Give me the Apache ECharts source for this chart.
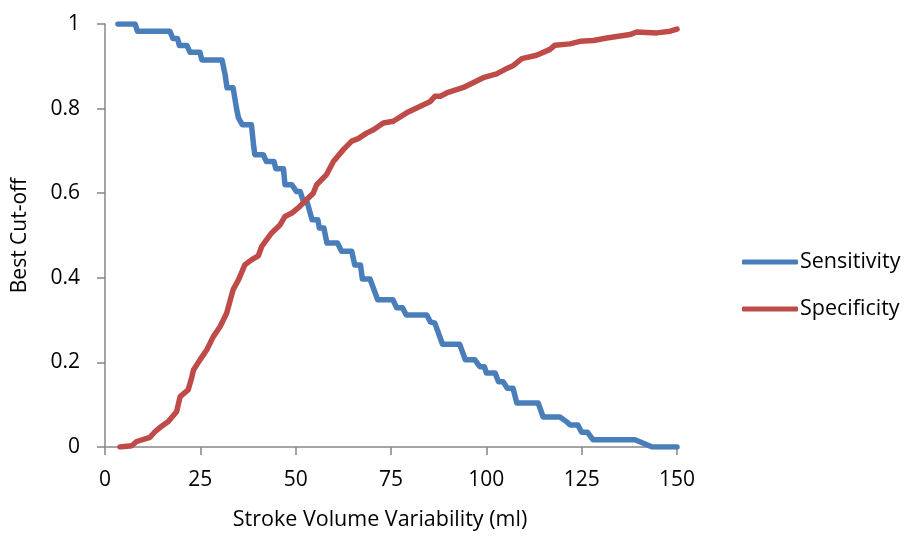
<!DOCTYPE html>
<html>
<head>
<meta charset="utf-8">
<script src="https://cdn.jsdelivr.net/npm/echarts@6/dist/echarts.min.js"></script>
<style>
  html, body { margin: 0; padding: 0; background: #fff; }
  #chart { width: 912px; height: 537px; }
</style>
</head>
<body>
<div id="chart"></div>
<script>
// --- data: [stroke volume variability, value] ---
const sensitivity = [
  [3.4, 1], [7.9, 1], [8.5, 0.983], [17, 0.983], [17.8, 0.966], [19, 0.966],
  [19.5, 0.949], [21.5, 0.949], [22.3, 0.933], [24.9, 0.933], [25.4, 0.915],
  [30.7, 0.915], [31.5, 0.88], [32, 0.849], [33.6, 0.849], [34.5, 0.8],
  [35, 0.778], [36, 0.762], [38.4, 0.762], [39, 0.71], [39.3, 0.691],
  [41.5, 0.691], [42.3, 0.675], [44.3, 0.675], [44.8, 0.658], [46.8, 0.658],
  [47.2, 0.62], [49, 0.62], [50.2, 0.604], [51.2, 0.604], [52, 0.581],
  [53, 0.579], [54.3, 0.537], [55.8, 0.537], [56.2, 0.518], [57.4, 0.518],
  [58.2, 0.482], [61, 0.482], [62, 0.463], [64.7, 0.463], [65.5, 0.43],
  [67, 0.43], [67.5, 0.397], [69.5, 0.397], [71.5, 0.348], [75.5, 0.348],
  [76.5, 0.329], [78, 0.329], [79, 0.312], [84.4, 0.312], [85.3, 0.296],
  [86.5, 0.293], [88.5, 0.243], [93, 0.243], [94.5, 0.206], [97, 0.206],
  [98.3, 0.19], [99.5, 0.19], [100, 0.175], [102.3, 0.175], [103.2, 0.154],
  [104.4, 0.154], [105.5, 0.139], [107, 0.139], [108, 0.104], [113.6, 0.104],
  [114.9, 0.071], [119.3, 0.071], [121, 0.06], [122, 0.052], [124, 0.052],
  [125, 0.035], [126.5, 0.035], [128, 0.017], [139, 0.017], [143.5, 0],
  [150, 0]
];
const specificity = [
  [3.9, 0], [7.0, 0.003], [8.3, 0.013], [11.8, 0.023], [13.1, 0.036],
  [14.4, 0.046], [16.6, 0.06], [18.8, 0.084], [19.7, 0.119], [21.8, 0.135],
  [22.7, 0.163], [23.2, 0.182], [24.9, 0.206], [26.7, 0.23], [28.4, 0.261],
  [30.2, 0.285], [31.9, 0.316], [33.6, 0.372], [35.0, 0.395], [36.7, 0.431],
  [38.5, 0.443], [40.2, 0.452], [41.1, 0.474], [43.7, 0.506], [45.9, 0.525],
  [47.2, 0.545], [49.0, 0.553], [51.1, 0.569], [52.9, 0.585], [54.6, 0.6],
  [55.5, 0.62], [58.1, 0.644], [59.9, 0.675], [62.5, 0.703], [64.7, 0.723],
  [66.4, 0.729], [68.6, 0.742], [70.4, 0.75], [73.0, 0.766], [75.6, 0.77],
  [79.1, 0.79], [80.9, 0.798], [85.2, 0.816], [86.5, 0.829], [87.9, 0.829],
  [89.6, 0.837], [94.0, 0.85], [99.2, 0.873], [102.7, 0.882], [105.4, 0.895],
  [107.1, 0.902], [109.3, 0.918], [113.2, 0.926], [116.7, 0.94], [118.0, 0.95],
  [121.9, 0.953], [124.6, 0.959], [128.1, 0.961], [131.6, 0.967], [137.7, 0.975],
  [139.4, 0.981], [144.7, 0.979], [148.2, 0.983], [150, 0.988]
];

const BLUE = '#4a7ebb';
const RED = '#be4b48';
const AXIS_GREY = '#868686';
const FONT = '"Open Sans", sans-serif';
const FONT_SIZE = 21;

const chart = echarts.init(document.getElementById('chart'));

const lineSeries = (name, data, color) => ({
  name: name,
  type: 'line',
  data: data,
  showSymbol: false,
  symbol: 'none',
  color: color,
  lineStyle: { width: 5.5, color: color, cap: 'round', join: 'round' },
  animation: false
});

chart.setOption({
  backgroundColor: '#fff',
  animation: false,
  textStyle: { fontFamily: FONT },
  grid: { left: 105, right: 235, top: 24, bottom: 90 },
  legend: {
    orient: 'vertical',
    left: 737,
    top: 246,
    itemWidth: 56,
    itemHeight: 5,
    itemGap: 25,
    icon: 'roundRect',
    textStyle: { fontSize: 21.5, color: '#000', fontFamily: FONT, lineHeight: 22, padding: [0, 0, 0, -3] },
    data: ['Sensitivity', 'Specificity']
  },
  xAxis: {
    type: 'value',
    min: 0,
    max: 150,
    interval: 25,
    name: 'Stroke Volume Variability (ml)',
    nameLocation: 'middle',
    nameGap: 62,
    nameTextStyle: { fontSize: 21.5, color: '#000', fontFamily: FONT, padding: [0, 22, 0, 0] },
    axisLine: { show: true, lineStyle: { color: AXIS_GREY, width: 1.5 } },
    axisTick: { show: true, length: 8, lineStyle: { color: AXIS_GREY, width: 1.5 } },
    axisLabel: { fontSize: FONT_SIZE, color: '#000', margin: 23 },
    splitLine: { show: false }
  },
  yAxis: {
    type: 'value',
    min: 0,
    max: 1,
    interval: 0.2,
    name: 'Best Cut-off',
    nameLocation: 'middle',
    nameGap: 74,
    nameTextStyle: { fontSize: FONT_SIZE, color: '#000', fontFamily: FONT },
    axisLine: { show: true, lineStyle: { color: AXIS_GREY, width: 1.5 } },
    axisTick: { show: true, length: 8, lineStyle: { color: AXIS_GREY, width: 1.5 } },
    axisLabel: { fontSize: FONT_SIZE, color: '#000', margin: 25 },
    splitLine: { show: false }
  },
  series: [
    lineSeries('Sensitivity', sensitivity, BLUE),
    lineSeries('Specificity', specificity, RED)
  ]
});
</script>
</body>
</html>
